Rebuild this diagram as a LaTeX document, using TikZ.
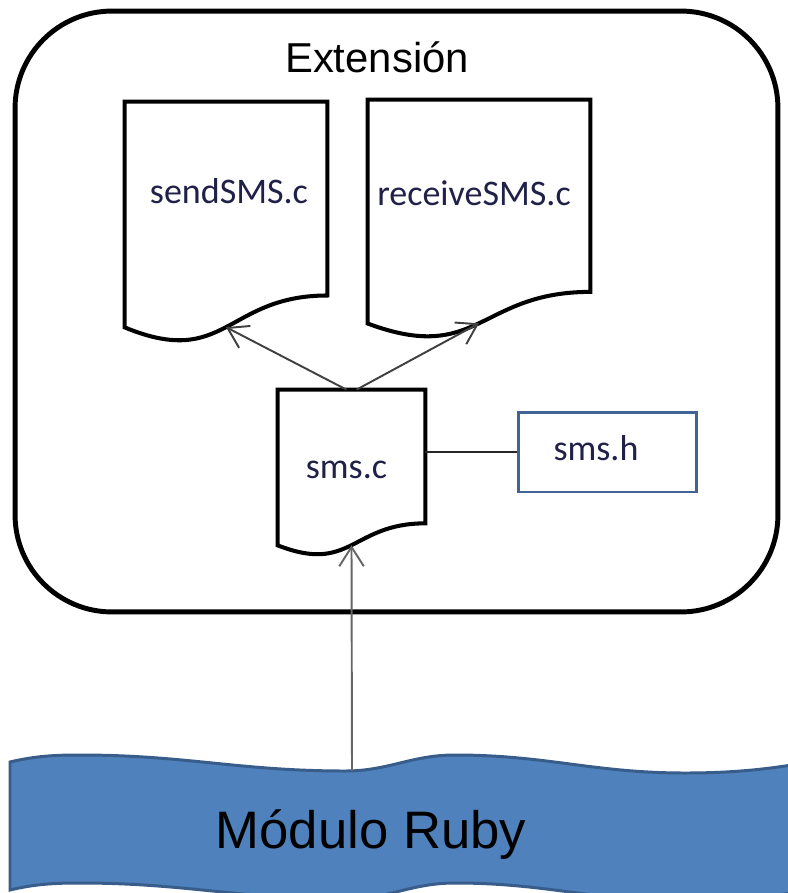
\documentclass[tikz,border=0pt]{standalone}
\usepackage{fontspec}
\setmainfont{Liberation Sans}
\newfontfamily\bodyfont{Carlito}
\usetikzlibrary{calc,arrows.meta}

\definecolor{inkblue}{RGB}{32,32,72}
\definecolor{rubyfill}{RGB}{79,129,189}
\definecolor{rubyedge}{RGB}{56,93,138}
\definecolor{hedge}{RGB}{65,100,150}

% Outline of a flowchart "document" around node #1; #2 names the middle of its wavy base
\newcommand\docoutline[2]{%
  \draw[docline]
    (#1.north west) -- (#1.north east)
    -- ($(#1.north east)!0.802!(#1.south east)$)
    .. controls ($(#1.north)!0.802!(#1.south)$) and ($(#1.north)!1.1075!(#1.south)$)
    .. ($(#1.north west)!0.934!(#1.south west)$) coordinate[pos=0.5] (#2)
    -- cycle;}

\begin{document}
\begin{tikzpicture}[x=0.02cm,y=-0.02cm,
  docbox/.style={rectangle,draw=none,inner sep=0pt},
  docline/.style={line width=2.3pt,line join=miter},
  fname/.style={font=\bodyfont\fontsize{20.5}{24}\selectfont,text=inkblue,anchor=base,inner sep=0pt},
  conn/.style={line width=1.1pt,draw=black!75,
    -{Straight Barb[length=11pt,width=14pt,line width=1.1pt]}},
  link/.style={line width=0.9pt,draw=black!85}]

\useasboundingbox (0,0) rectangle (788,893);
\fill[white] (0,0) rectangle (788,893);

% extension container
\node[rectangle,draw,line width=2.8pt,rounded corners=1.94cm,
      minimum width=15.26cm,minimum height=12.02cm,inner sep=0pt] (ext) at (396.5,311.5) {};
\node[font=\fontsize{23.8}{28}\selectfont,anchor=base,inner sep=0pt] (extlbl) at (377,72) {Extensión};

% source files
\node[docbox,minimum width=4.04cm,minimum height=4.82cm] (send) at (226,222.5) {};
\docoutline{send}{sendtip}
\node[fname] (sendlbl) at (229,203) {sendSMS.c};

\node[docbox,minimum width=4.44cm,minimum height=4.78cm] (recv) at (479,219.5) {};
\docoutline{recv}{recvtip}
\node[fname] (recvlbl) at (474,205) {receiveSMS.c};

\node[docbox,minimum width=2.94cm,minimum height=3.32cm] (smsc) at (351.5,473) {};
\docoutline{smsc}{smsctip}
\node[fname] (smsclbl) at (346.5,478) {sms.c};

% header file
\node[rectangle,draw=hedge,line width=1.7pt,minimum width=3.58cm,minimum height=1.6cm,
      inner sep=0pt] (smsh) at (607.5,452) {};
\node[fname] (smshlbl) at (596,460) {sms.h};

% Ruby module banner
\begin{scope}
\clip (0,0) rectangle (788,893);
\filldraw[fill=rubyfill,draw=rubyedge,line width=1.7pt]
  (10,762) .. controls (35,756) and (55,755) .. (80,755)
  .. controls (186,755) and (239,771) .. (345,771)
  .. controls (389,771) and (411,755) .. (455,755)
  .. controls (547,755) and (593,773) .. (685,773)
  .. controls (740,773) and (775,768) .. (810,762)
  -- (810,890)
  .. controls (775,896) and (740,901) .. (685,901)
  .. controls (593,901) and (547,883) .. (455,883)
  .. controls (411,883) and (389,899) .. (345,899)
  .. controls (239,899) and (186,883) .. (80,883)
  .. controls (55,883) and (35,884) .. (10,890) -- cycle;
\end{scope}
\coordinate (rubytop) at (352,771);
\node[font=\fontsize{30}{36}\selectfont,anchor=base,inner sep=0pt] (ruby) at (371,848) {Módulo Ruby};

% connectors
\draw[link] (smsh.west) -- (smsh.west -| smsc.east);
\draw[conn] ([xshift=-0.1cm]smsc.north) -- (sendtip);
\draw[conn] ([xshift=0.1cm]smsc.north) -- (recvtip);
\draw[conn,draw=black!60] (rubytop) -- (smsctip);
\end{tikzpicture}
\end{document}
